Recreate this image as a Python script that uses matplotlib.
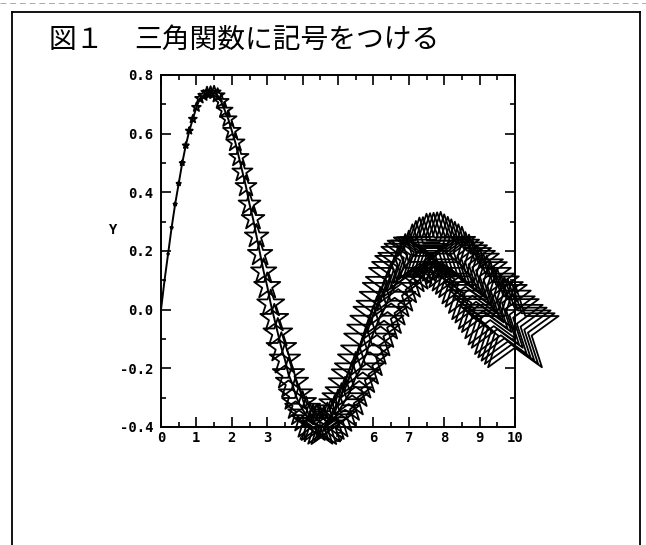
import matplotlib
matplotlib.use("Agg")
import matplotlib.pyplot as plt
from matplotlib.lines import Line2D
from matplotlib.ticker import MultipleLocator

x_vals = [
    0.0, 0.1, 0.2, 0.3, 0.4, 0.5, 0.6, 0.7, 0.8, 0.9,
    1.0, 1.1, 1.2, 1.3, 1.4, 1.5, 1.6, 1.7, 1.8, 1.9,
    2.0, 2.1, 2.2, 2.3, 2.4, 2.5, 2.6, 2.7, 2.8, 2.9,
    3.0, 3.1, 3.2, 3.3, 3.4, 3.5, 3.6, 3.7, 3.8, 3.9,
    4.0, 4.1, 4.2, 4.3, 4.4, 4.5, 4.6, 4.7, 4.8, 4.9,
    5.0, 5.1, 5.2, 5.3, 5.4, 5.5, 5.6, 5.7, 5.8, 5.9,
    6.0, 6.1, 6.2, 6.3, 6.4, 6.5, 6.6, 6.7, 6.8, 6.9,
    7.0, 7.1, 7.2, 7.3, 7.4, 7.5, 7.6, 7.7, 7.8, 7.9,
    8.0, 8.1, 8.2, 8.3, 8.4, 8.5, 8.6, 8.7, 8.8, 8.9,
    9.0, 9.1, 9.2, 9.3, 9.4, 9.5, 9.6, 9.7, 9.8, 9.9,
    10.0,
]
y_vals = [
    0.00, 0.10, 0.19, 0.28, 0.36, 0.43, 0.50, 0.56, 0.61, 0.65,
    0.69, 0.72, 0.73, 0.74, 0.74, 0.74, 0.73, 0.71, 0.68, 0.65,
    0.61, 0.57, 0.52, 0.47, 0.42, 0.36, 0.31, 0.25, 0.19, 0.13,
    0.08, 0.02, -0.03, -0.08, -0.13, -0.17, -0.22, -0.25, -0.29, -0.32,
    -0.34, -0.36, -0.38, -0.39, -0.39, -0.40, -0.40, -0.39, -0.38, -0.37,
    -0.35, -0.33, -0.31, -0.29, -0.26, -0.23, -0.21, -0.18, -0.15, -0.11,
    -0.08, -0.05, -0.02, 0.00, 0.03, 0.06, 0.08, 0.11, 0.13, 0.15,
    0.16, 0.18, 0.19, 0.20, 0.20, 0.21, 0.21, 0.21, 0.21, 0.21,
    0.20, 0.19, 0.18, 0.17, 0.16, 0.15, 0.13, 0.12, 0.10, 0.08,
    0.07, 0.05, 0.04, 0.02, 0.00, -0.01, -0.03, -0.04, -0.05, -0.06,
    -0.07,
]
x_ticks = [0, 1, 2, 3, 4, 5, 6, 7, 8, 9, 10]
y_ticks = [-0.4, -0.2, 0.0, 0.2, 0.4, 0.6, 0.8]
y_ticklabels = ["-0.4", "-0.2", "0.0", "0.2", "0.4", "0.6", "0.8"]
title_fig = "図１"
title_text = "三角関数に記号をつける"

plt.rcParams["axes.unicode_minus"] = False
W, H = 646, 545
fig = plt.figure(figsize=(W / 100, H / 100), dpi=100)
fig.patch.set_facecolor("white")

ax = fig.add_axes([161 / W, 118 / H, 354 / W, 352 / H])
ax.plot(x_vals, y_vals, color="black", lw=1.4, zorder=2)
# star size grows along x
sizes = [(6.6 * x) ** 2 for x in x_vals]
ax.scatter(x_vals, y_vals, s=sizes, marker="*", facecolors="none",
           edgecolors="black", linewidths=1.3, clip_on=False, zorder=3)

ax.set_xlim(0, 10)
ax.set_ylim(-0.4, 0.8)
ax.set_xticks(x_ticks)
ax.set_xticklabels([str(t) for t in x_ticks])
ax.set_yticks(y_ticks)
ax.set_yticklabels(y_ticklabels)
ax.xaxis.set_minor_locator(MultipleLocator(0.5))
ax.yaxis.set_minor_locator(MultipleLocator(0.1))
ax.tick_params(which="both", direction="in", top=True, right=True, width=1.2)
ax.tick_params(which="major", length=7)
ax.tick_params(which="minor", length=3.5)
ax.tick_params(axis="y", pad=5.5)
ax.tick_params(axis="x", pad=3)
for lab in ax.get_xticklabels() + ax.get_yticklabels():
    lab.set_fontfamily("DejaVu Sans Mono")
    lab.set_fontweight("bold")
    lab.set_fontsize(10)
for sp in ax.spines.values():
    sp.set_linewidth(1.4)

fig.text(113 / W, 1 - 230 / H, "Y", fontfamily="DejaVu Sans Mono",
         fontweight="bold", fontsize=10, ha="center", va="center")

# page frame
fx0, fx1, fy = 12 / W, 640 / W, 1 - 12 / H
fig.add_artist(Line2D([fx0, fx0], [0, fy], transform=fig.transFigure, color="black", lw=1.3))
fig.add_artist(Line2D([fx1, fx1], [0, fy], transform=fig.transFigure, color="black", lw=1.3))
fig.add_artist(Line2D([fx0, fx1], [fy, fy], transform=fig.transFigure, color="black", lw=1.3))
fig.add_artist(Line2D([0, 1], [1 - 3 / H, 1 - 3 / H], transform=fig.transFigure,
                      color="#aaaaaa", lw=0.7, ls=(0, (6, 4))))

fig.text(49 / W, 1 - 40 / H, title_fig, fontfamily=["Noto Sans CJK JP", "DejaVu Sans"],
         fontsize=20, ha="left", va="center")
fig.text(134 / W, 1 - 40 / H, title_text, fontfamily=["Noto Sans CJK JP", "DejaVu Sans"],
         fontsize=20, ha="left", va="center")

fig.savefig("out.png", dpi=100)
